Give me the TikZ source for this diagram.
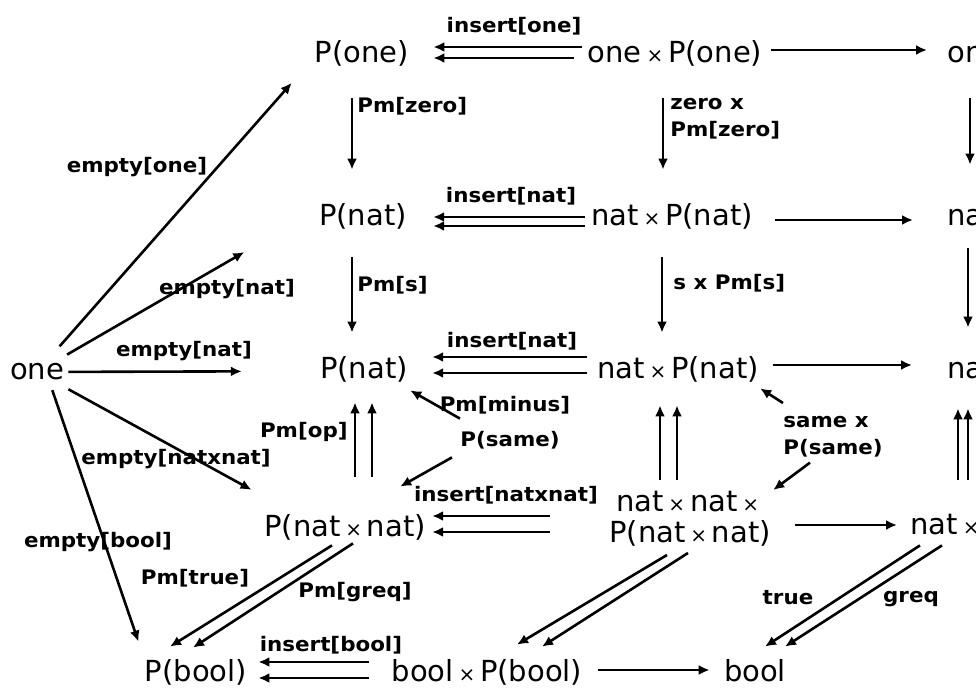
\documentclass[tikz,border=0pt]{standalone}
\usepackage{fontspec}
\setmainfont{DejaVu Sans}
\newfontfamily\lblfont{DejaVu Sans Bold}[FakeStretch=1.07]
\usetikzlibrary{arrows.meta}
\newcommand{\tms}{\,{\fontsize{10}{10}\selectfont ×}\,}

\begin{document}
\begin{tikzpicture}[
    x=0.5pt, y=-0.5pt,
    obj/.style={inner sep=0pt, font=\fontsize{14.5}{15.5}\selectfont},
    objrow/.style={obj, text height=11pt, text depth=3pt},
    lbl/.style={inner sep=0pt, font=\lblfont\fontsize{10}{13.5}\selectfont},
    lblrow/.style={lbl, text height=7.5pt, text depth=2.5pt},
    arrow/.style={-{Latex[length=5.5pt, width=5pt]}, line width=1.3pt},
]
\clip (0,0) rectangle (976,689);

% Top row
\node[objrow] (pone) at (362,55) {P(one)};
\node[objrow] (onepone) at (675,55) {one\tms P(one)};
\node[objrow, anchor=west] (oneR) at (947,55) {one};

% Second row
\node[objrow] (pnatA) at (363,218) {P(nat)};
\node[objrow] (natpnatA) at (672,218) {nat\tms P(nat)};
\node[objrow, anchor=west] (natA) at (947,218) {nat};

% Third row
\node[objrow] (one) at (37,372) {one};
\node[objrow] (pnatB) at (364,371) {P(nat)};
\node[objrow] (natpnatB) at (678,371) {nat\tms P(nat)};
\node[objrow, anchor=west] (natB) at (947,371) {nat};
\node[lblrow] (psame) at (510,442) {P(same)};

% Fourth row
\node[objrow] (pnatnat) at (345,529) {P(nat\tms nat)};
\node[obj, align=center] (natnatp) at (690,519) {nat\tms nat\tms\\P(nat\tms nat)};
\node[objrow, anchor=west] (natnat) at (910,527) {nat\tms};

% Bottom row
\node[objrow] (pbool) at (196,674) {P(bool)};
\node[objrow] (boolpbool) at (487,674) {bool\tms P(bool)};
\node[objrow] (bool) at (755,674) {bool};

% Labels
\node[lblrow] (insone) at (514,28) {insert[one]};
\node[lblrow] (insnatA) at (511,198) {insert[nat]};
\node[lblrow] (insnatB) at (512,343) {insert[nat]};
\node[lblrow] (insnatnat) at (506,497) {insert[natxnat]};
\node[lblrow] (insbool) at (331,647) {insert[bool]};
\node[lblrow, anchor=west] (pmzero) at (357,108) {Pm[zero]};
\node[lbl, align=left, anchor=north west] (zeropmzero) at (670,98) {zero x\\Pm[zero]};
\node[lblrow, anchor=west] (pms) at (357,287) {Pm[s]};
\node[lblrow, anchor=west] (spms) at (673,285) {s x Pm[s]};
\node[lblrow] (emptyone) at (137,168) {empty[one]};
\node[lblrow] (emptynatA) at (227,290) {empty[nat]};
\node[lblrow] (emptynatB) at (184,352) {empty[nat]};
\node[lblrow, anchor=east] (pmop) at (348,433) {Pm[op]};
\node[lblrow] (pmminus) at (505,407) {Pm[minus]};
\node[lblrow] (emptynatnat) at (176,460) {empty[natxnat]};
\node[lblrow] (emptybool) at (98,543) {empty[bool]};
\node[lblrow] (pmtrue) at (195,580) {Pm[true]};
\node[lblrow] (pmgreq) at (355,593) {Pm[greq]};
\node[lbl, align=left, anchor=north west] (samepsame) at (783,416) {same x\\P(same)};
\node[lblrow] (ltrue) at (788,600) {true};
\node[lblrow] (lgreq) at (911,598) {greq};

% Insert arrows
\draw[arrow, shorten <=2.5pt, shorten >=12pt] ([yshift=4pt]onepone.west) -- ([yshift=4pt]pone.east);
\draw[arrow, shorten <=6.5pt, shorten >=12pt] ([yshift=-1.5pt]onepone.west) -- ([yshift=-1.5pt]pone.east);
\draw[arrow, shorten <=3pt, shorten >=13pt] ([yshift=0.5pt]natpnatA.west) -- ([yshift=0.5pt]pnatA.east);
\draw[arrow, shorten <=3pt, shorten >=13pt] ([yshift=-4pt]natpnatA.west) -- ([yshift=-4pt]pnatA.east);
\draw[arrow, shorten <=5pt, shorten >=12pt] ([yshift=7pt]natpnatB.west) -- ([yshift=7pt]pnatB.east);
\draw[arrow, shorten <=5pt, shorten >=12pt] ([yshift=-1pt]natpnatB.west) -- ([yshift=-1pt]pnatB.east);
\draw[arrow, shorten <=29.5pt, shorten >=3pt] ([yshift=1.5pt]natnatp.west) -- ([yshift=6.5pt]pnatnat.east);
\draw[arrow, shorten <=29.5pt, shorten >=3pt] ([yshift=-6.5pt]natnatp.west) -- ([yshift=-1.5pt]pnatnat.east);
\draw[arrow, shorten <=11pt, shorten >=5.5pt] ([yshift=6pt]boolpbool.west) -- ([yshift=6pt]pbool.east);
\draw[arrow, shorten <=11pt, shorten >=5.5pt] ([yshift=-2pt]boolpbool.west) -- ([yshift=-2pt]pbool.east);

% Arrows to the right
\draw[arrow, shorten <=4pt, shorten >=10pt] ([yshift=2.5pt]onepone.east) -- ([yshift=2.5pt]oneR.west);
\draw[arrow, shorten <=11pt, shorten >=17pt] ([yshift=-1pt]natpnatA.east) -- ([yshift=-1pt]natA.west);
\draw[arrow, shorten <=7pt, shorten >=17.5pt] ([yshift=3pt]natpnatB.east) -- ([yshift=3pt]natB.west);
\draw[arrow, shorten <=12pt, shorten >=6.5pt] ([yshift=-3pt]natnatp.east) -- ([yshift=1pt]natnat.west);
\draw[arrow, shorten <=7.5pt, shorten >=7pt] ([yshift=2pt]boolpbool.east) -- ([yshift=2pt]bool.west);

% Downward maps
\draw[arrow, shorten <=14.5pt, shorten >=17pt] ([xshift=-5pt]pone.south) -- ([xshift=-5.5pt]pnatA.north);
\draw[arrow, shorten <=14.5pt, shorten >=17pt] ([xshift=-6pt]onepone.south) -- ([xshift=-4.5pt]natpnatA.north);
\draw[arrow, shorten <=14.5pt, shorten >=19.5pt] ([xshift=11.5pt]oneR.south west) -- ([xshift=11.5pt]natA.north west);
\draw[arrow, shorten <=12.5pt, shorten >=12pt] ([xshift=-5.5pt]pnatA.south) -- ([xshift=-6pt]pnatB.north);
\draw[arrow, shorten <=12.5pt, shorten >=12pt] ([xshift=-5pt]natpnatA.south) -- ([xshift=-8pt]natpnatB.north);
\draw[arrow, shorten <=8pt, shorten >=14.5pt] ([xshift=10.5pt]natA.south west) -- ([xshift=10.5pt]natB.north west);

% Upward pairs
\draw[arrow, shorten <=19pt, shorten >=8.5pt] ([xshift=5pt]pnatnat.north) -- ([xshift=-4.5pt]pnatB.south);
\draw[arrow, shorten <=19pt, shorten >=8.5pt] ([xshift=13.5pt]pnatnat.north) -- ([xshift=4pt]pnatB.south);
\draw[arrow, shorten <=5.5pt, shorten >=10pt] ([xshift=-15pt]natnatp.north) -- ([xshift=-9pt]natpnatB.south);
\draw[arrow, shorten <=5.5pt, shorten >=10pt] ([xshift=-6.5pt]natnatp.north) -- ([xshift=-0.5pt]natpnatB.south);
\draw[arrow, shorten <=16.5pt, shorten >=11.5pt] ([xshift=24pt]natnat.north west) -- ([xshift=5.5pt]natB.south west);
\draw[arrow, shorten <=16.5pt, shorten >=11.5pt] ([xshift=29pt]natnat.north west) -- ([xshift=10.5pt]natB.south west);

% Empty sets out of one
\draw[arrow, shorten <=7.5pt, shorten >=9pt] (one) -- ([xshift=-5.5pt]pone.south west);
\draw[arrow, shorten <=3pt, shorten >=43pt] (one) -- ([yshift=4.5pt]pnatA.west);
\draw[arrow, shorten <=2pt, shorten >=39pt] (one) -- (pnatB);
\draw[arrow, shorten <=3pt, shorten >=7pt] (one) -- ([yshift=9pt]pnatnat.north west);
\draw[arrow, shorten <=2pt, shorten >=9.5pt] ([xshift=7pt]one.south) -- (pbool.north west);

% Same
\draw[arrow] ([yshift=6.5pt]psame.north west) -- ([xshift=1pt, yshift=-2.5pt]pnatB.south east);
\draw[arrow] ([xshift=-4pt, yshift=-2.5pt]psame.south west) -- ([xshift=-13pt, yshift=14pt]pnatnat.north east);
\draw[arrow] ([yshift=6.5pt]samepsame.north west) -- ([xshift=0.5pt, yshift=-1.5pt]natpnatB.south east);
\draw[arrow] ([xshift=13.5pt, yshift=-2.5pt]samepsame.south west) -- ([xshift=1pt, yshift=0.5pt]natnatp.north east);

% Down to bool
\draw[arrow] ([xshift=-6.5pt, yshift=-1pt]pnatnat.south) -- ([xshift=-13pt, yshift=6.5pt]pbool.north);
\draw[arrow] ([xshift=4pt]pnatnat.south) -- ([xshift=-1.5pt, yshift=6pt]pbool.north);
\draw[arrow] ([xshift=-11.5pt, yshift=-4pt]natnatp.south) -- ([xshift=15pt, yshift=7.5pt]boolpbool.north);
\draw[arrow] ([xshift=-1pt, yshift=-3pt]natnatp.south) -- ([xshift=27.5pt, yshift=6.5pt]boolpbool.north);
\draw[arrow] ([xshift=5pt, yshift=-2pt]natnat.south west) -- ([xshift=5pt, yshift=6.5pt]bool.north);
\draw[arrow] ([xshift=16pt, yshift=-2pt]natnat.south west) -- ([xshift=15pt, yshift=6.5pt]bool.north);

\end{tikzpicture}
\end{document}
